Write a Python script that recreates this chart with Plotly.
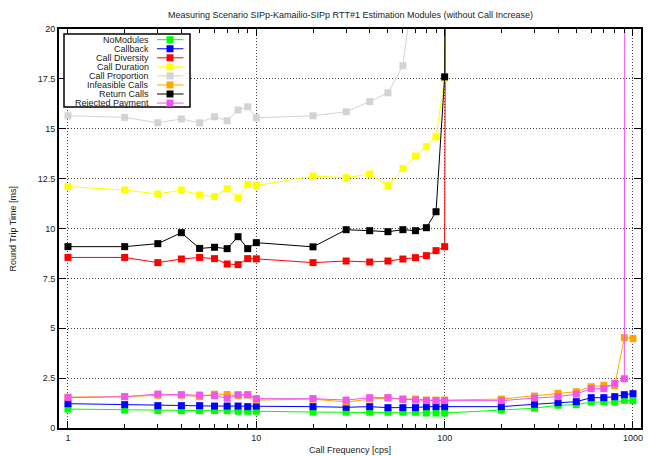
import math
import plotly.graph_objects as go

# Call frequencies [cps]
freq = [1, 2, 3, 4, 5, 6, 7, 8, 9, 10,
        20, 30, 40, 50, 60, 70, 80, 90, 100,
        200, 300, 400, 500, 600, 700, 800, 900, 1000]

# Round trip times [ms] per estimation module
no_modules = [0.95, 0.90, 0.87, 0.87, 0.87, 0.87, 0.87, 0.84, 0.84, 0.84,
              0.80, 0.79, 0.79, 0.79, 0.79, 0.79, 0.75, 0.75, 0.75,
              0.90, 0.99, 1.14, 1.17, 1.30, 1.32, 1.30, 1.39, 1.37]
callback = [1.22, 1.17, 1.12, 1.12, 1.12, 1.10, 1.10, 1.10, 1.07, 1.10,
            1.07, 1.04, 1.07, 1.02, 1.02, 1.02, 1.07, 1.07, 1.07,
            1.07, 1.19, 1.27, 1.32, 1.52, 1.52, 1.57, 1.67, 1.72]
call_diversity = [8.55, 8.55, 8.29, 8.47, 8.55, 8.49, 8.22, 8.19, 8.49, 8.48,
                  8.29, 8.37, 8.32, 8.37, 8.47, 8.54, 8.64, 8.89, 9.09,
                  900.0]
call_duration = [12.10, 11.93, 11.73, 11.93, 11.68, 11.60, 12.00, 11.54, 12.20, 12.15,
                 12.63, 12.55, 12.73, 12.15, 13.00, 13.63, 14.10, 14.60, 17.53,
                 900.0]
call_proportion = [15.65, 15.57, 15.30, 15.49, 15.30, 15.60, 15.40, 15.94, 16.10, 15.55,
                   15.65, 15.85, 16.36, 16.80, 18.16, 22.30, 27.00, 33.00, 41.00,
                   900.0]
infeasible_calls = [1.55, 1.57, 1.64, 1.65, 1.57, 1.70, 1.68, 1.62, 1.65, 1.40,
                    1.45, 1.30, 1.45, 1.50, 1.45, 1.45, 1.40, 1.40, 1.40,
                    1.45, 1.60, 1.74, 1.82, 2.07, 2.14, 2.12, 4.53, 4.48]
return_calls = [9.09, 9.09, 9.24, 9.79, 9.00, 9.06, 8.99, 9.59, 8.99, 9.29,
                9.08, 9.94, 9.89, 9.84, 9.94, 9.89, 10.04, 10.84, 17.60,
                900.0]
rejected_payment = [1.52, 1.57, 1.70, 1.67, 1.65, 1.62, 1.49, 1.67, 1.67, 1.47,
                    1.47, 1.40, 1.52, 1.52, 1.44, 1.40, 1.37, 1.37, 1.37,
                    1.37, 1.50, 1.57, 1.70, 1.97, 1.97, 2.24, 2.47, 480.0]

series_names = ["NoModules", "Callback", "Call Diversity", "Call Duration",
                "Call Proportion", "Infeasible Calls", "Return Calls", "Rejected Payment"]
series_values = [no_modules, callback, call_diversity, call_duration,
                 call_proportion, infeasible_calls, return_calls, rejected_payment]
series_colors = ["#00ff00", "#0000ff", "#ff0000", "#ffff00",
                 "#d3d3d3", "#ffa500", "#000000", "#f055f0"]

y_ticks = [0, 2.5, 5, 7.5, 10, 12.5, 15, 17.5, 20]
y_tick_text = ["0", "2.5", "5", "7.5", "10", "12.5", "15", "17.5", "20"]
x_ticks = [1, 10, 100, 1000]
x_minor = [m * d for d in (1, 10, 100) for m in range(2, 10)]

FONT = "Liberation Sans, Arial, sans-serif"
W, H = 648, 456
ML, MR, MT, MB = 59, 7, 29, 28
PW, PH = W - ML - MR, H - MT - MB

fig = go.Figure()
for name, vals, col in zip(series_names, series_values, series_colors):
    fig.add_trace(go.Scatter(
        x=freq[:len(vals)], y=vals, name=name, mode="lines+markers",
        line=dict(color=col, width=1),
        marker=dict(symbol="square", size=7, color=col, line=dict(width=0)),
        showlegend=False, cliponaxis=True,
    ))


# Legend box in the upper-left corner (text right-aligned, sample on the right)
def px_x(px):
    return (px - ML) / PW


def px_y(py):
    return (H - MB - py) / PH


shapes = [dict(type="rect", xref="paper", yref="paper",
               x0=px_x(64), x1=px_x(190), y0=px_y(107), y1=px_y(34),
               line=dict(color="#000000", width=1.5), fillcolor="white", layer="above")]
annotations = []
row0, row_step = 39.7, 9.05
for i, (name, col) in enumerate(zip(series_names, series_colors)):
    yy = row0 + i * row_step
    annotations.append(dict(xref="paper", yref="paper", x=px_x(151), y=px_y(yy),
                            text=name, showarrow=False, xanchor="right", yanchor="middle",
                            font=dict(family=FONT, size=9, color="#222222")))
    shapes.append(dict(type="line", xref="paper", yref="paper",
                       x0=px_x(157), x1=px_x(183.5), y0=px_y(yy), y1=px_y(yy),
                       line=dict(color=col, width=1), layer="above"))
    shapes.append(dict(type="rect", xref="paper", yref="paper",
                       x0=px_x(166.5), x1=px_x(173.5), y0=px_y(yy + 3.5), y1=px_y(yy - 3.5),
                       line=dict(width=0), fillcolor=col, layer="above"))

annotations.append(dict(xref="paper", yref="paper", x=0.5, y=px_y(15),
                        text="Measuring Scenario SIPp-Kamailio-SIPp RTT#1 Estimation Modules (without Call Increase)",
                        showarrow=False, xanchor="center", yanchor="middle",
                        font=dict(family=FONT, size=9, color="#222222")))
annotations.append(dict(xref="paper", yref="paper", x=0.5, y=px_y(450),
                        text="Call Frequency [cps]", showarrow=False,
                        xanchor="center", yanchor="middle",
                        font=dict(family=FONT, size=9, color="#222222")))
annotations.append(dict(xref="paper", yref="paper", x=px_x(12), y=0.5,
                        text="Round Trip Time [ms]", showarrow=False, textangle=-90,
                        xanchor="center", yanchor="middle",
                        font=dict(family=FONT, size=9, color="#222222")))

fig.update_layout(
    width=W, height=H,
    margin=dict(l=ML, r=MR, t=MT, b=MB, autoexpand=False),
    paper_bgcolor="white", plot_bgcolor="white",
    font=dict(family=FONT, size=9, color="#222222"),
    shapes=shapes, annotations=annotations,
    showlegend=False,
)
fig.update_xaxes(
    type="log", range=[math.log10(0.896), math.log10(1103)],
    tickvals=x_ticks, ticktext=[str(v) for v in x_ticks],
    ticks="inside", ticklen=7, tickcolor="#000000", tickwidth=1,
    showline=True, linecolor="#000000", linewidth=2, mirror="allticks",
    showgrid=True, gridcolor="#444444", griddash="1px,2px", gridwidth=1,
    zeroline=False, automargin=False,
    minor=dict(tickvals=x_minor, ticks="inside", ticklen=4, tickcolor="#000000",
               showgrid=False),
    tickfont=dict(family=FONT, size=9, color="#222222"),
)
fig.update_yaxes(
    range=[0, 20], tickvals=y_ticks, ticktext=y_tick_text,
    ticks="inside", ticklen=7, tickcolor="#000000", tickwidth=1,
    showline=True, linecolor="#000000", linewidth=2, mirror="allticks",
    showgrid=True, gridcolor="#444444", griddash="1px,2px", gridwidth=1,
    zeroline=False, automargin=False,
    tickfont=dict(family=FONT, size=9, color="#222222"),
)

fig.write_html("out.html")
